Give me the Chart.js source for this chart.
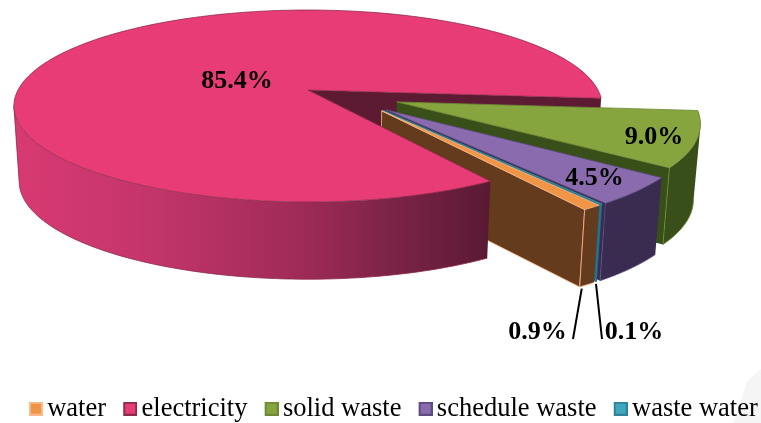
<!DOCTYPE html>
<html>
<head>
<meta charset="utf-8">
<title>Waste and utility share</title>
<style>
  html, body { margin: 0; padding: 0; background: #fff; overflow: hidden; }
  canvas { display: block; }
</style>
<script src="https://cdn.jsdelivr.net/npm/chart.js@4"></script>
</head>
<body>
<canvas id="share_chart" width="761" height="423"></canvas>
<script>
var categories = ['water', 'electricity', 'solid waste', 'schedule waste', 'waste water'];
var shareValues = [0.9, 85.4, 9.0, 4.5, 0.1];

var topColors = ['#f09546', '#e83c76', '#86a53f', '#8a6bae', '#3fa6c0'];
var edgeColors = ['#f9b98a', '#8c2b4a', '#6f8a35', '#5e4a82', '#2f8298'];
var wallColors = ['#653b1e', '#5c1a33', '#384f1a', '#3a2c50', '#1c6a80'];

// perspective of the tilted disc, unit circle -> pixels
var view = { cx: 308, cy: 90, rx: 290, ry: 93.3, persp: 0.1667, depth: 75, narrow: 0.018 };

// explosion of each slice, in unit circle coordinates
var explode = [[0.245, 0.215], [0, 0], [0.30, 0.125], [0.26, 0.205], [0.25, 0.21]];

// slices are painted back to front, the big one goes over them
var paintOrder = [2, 3, 4, 0];

var labelSpots = [[537.5, 332], [237, 81], [654, 137], [594.5, 178], [634, 332]];
var leaderEnds = { 0: [573, 339], 4: [602, 339] };
var leaderFrom = { 0: 0.85, 4: 0.5 };

function project(x, y, z) {
  var w = 1 - view.persp * y;
  var k = 1 - view.narrow * z;
  return {
    x: view.cx + view.rx * x / w * k,
    y: view.cy + view.ry * y / w + z * view.depth * (1 + 0.03 * y)
  };
}

function rimPoint(angle, shift, z) {
  return project(Math.cos(angle) + shift[0], Math.sin(angle) + shift[1], z);
}

function rimPath(ctx, start, end, shift, z, first) {
  var steps = Math.max(4, Math.ceil(Math.abs(end - start) * 40));
  for (var i = 0; i <= steps; i++) {
    var p = rimPoint(start + (end - start) * i / steps, shift, z);
    if (i === 0 && first) ctx.moveTo(p.x, p.y);
    else ctx.lineTo(p.x, p.y);
  }
}

function paintShape(ctx, fill, stroke, width) {
  ctx.closePath();
  ctx.fillStyle = fill;
  ctx.fill();
  if (stroke) {
    ctx.strokeStyle = stroke;
    ctx.lineWidth = width || 1;
    ctx.stroke();
  }
}

function drawTop(ctx, arc, i) {
  var apex = project(explode[i][0], explode[i][1], 0);
  ctx.beginPath();
  ctx.moveTo(apex.x, apex.y);
  rimPath(ctx, arc.startAngle, arc.endAngle, explode[i], 0, false);
  paintShape(ctx, topColors[i], edgeColors[i], 0.8);
}

// the cut face that looks at the viewer is the clockwise end of a slice
function drawCut(ctx, arc, i) {
  var shift = explode[i];
  var a = project(shift[0], shift[1], 0);
  var b = rimPoint(arc.endAngle, shift, 0);
  var c = rimPoint(arc.endAngle, shift, 1);
  var d = project(shift[0], shift[1], 1);
  ctx.beginPath();
  ctx.moveTo(a.x, a.y);
  ctx.lineTo(b.x, b.y);
  ctx.lineTo(c.x, c.y);
  ctx.lineTo(d.x, d.y);
  paintShape(ctx, wallColors[i], i === 0 ? edgeColors[0] : null, 0.8);
}

// the outer wall folds at its silhouette, so its strips all get the same
// winding and go into one path, that way they fill as a union without seams
function drawRim(ctx, start, end, i, fill) {
  var shift = explode[i];
  var steps = Math.max(4, Math.ceil((end - start) * 40));
  var edgeStart = start;
  var widest = -Infinity;
  ctx.beginPath();
  for (var s = 0; s < steps; s++) {
    var a0 = start + (end - start) * s / steps;
    var a1 = start + (end - start) * (s + 1) / steps;
    var p = [rimPoint(a0, shift, 0), rimPoint(a1, shift, 0), rimPoint(a1, shift, 1), rimPoint(a0, shift, 1)];
    // the lower edge only shows from the rightmost point of the rim on
    if (p[3].x > widest) {
      widest = p[3].x;
      edgeStart = a0;
    }
    var area = 0;
    for (var n = 0; n < 4; n++) {
      var q = p[(n + 1) % 4];
      area += p[n].x * q.y - q.x * p[n].y;
    }
    if (area < 0) p.reverse();
    ctx.moveTo(p[0].x, p[0].y);
    ctx.lineTo(p[1].x, p[1].y);
    ctx.lineTo(p[2].x, p[2].y);
    ctx.lineTo(p[3].x, p[3].y);
    ctx.closePath();
  }
  ctx.fillStyle = fill;
  ctx.fill();

  ctx.strokeStyle = edgeColors[i];
  ctx.lineWidth = 0.8;
  ctx.beginPath();
  rimPath(ctx, edgeStart, end, shift, 1, true);
  var t1 = rimPoint(end, shift, 0);
  ctx.lineTo(t1.x, t1.y);
  ctx.stroke();
}

var piePerspective = {
  id: 'piePerspective',
  beforeDraw: function(chart) {
    // faint mark in the lower right corner
    var ctx = chart.ctx;
    ctx.save();
    ctx.fillStyle = '#f5f5f5';
    ctx.beginPath();
    ctx.moveTo(748, 380);
    ctx.lineTo(761, 369);
    ctx.lineTo(761, 423);
    ctx.lineTo(733, 423);
    ctx.closePath();
    ctx.fill();
    ctx.restore();
  },
  // the flat arcs are replaced by the extruded ones below
  beforeDatasetsDraw: function(chart) {
    var ctx = chart.ctx;
    var arcs = chart.getDatasetMeta(0).data;
    var big = arcs[1];

    ctx.save();
    ctx.lineJoin = 'round';
    drawCut(ctx, big, 1);

    paintOrder.forEach(function(i) {
      drawCut(ctx, arcs[i], i);
      drawRim(ctx, arcs[i].startAngle, arcs[i].endAngle, i, wallColors[i]);
      drawTop(ctx, arcs[i], i);
    });

    var shade = ctx.createLinearGradient(14, 0, 488, 0);
    shade.addColorStop(0, '#d83a72');
    shade.addColorStop(0.3, '#c2356a');
    shade.addColorStop(0.6, '#a02b58');
    shade.addColorStop(0.8, '#7c2347');
    shade.addColorStop(1, '#5a1a33');
    drawRim(ctx, big.startAngle, Math.PI - Math.asin(view.persp), 1, shade);
    drawTop(ctx, big, 1);

    // leader lines of the two thin slices
    ctx.strokeStyle = '#000';
    ctx.lineWidth = 2;
    Object.keys(leaderEnds).forEach(function(key) {
      var arc = arcs[key];
      var angle = arc.startAngle + (arc.endAngle - arc.startAngle) * leaderFrom[key];
      var from = rimPoint(angle, explode[key], 1.03);
      ctx.beginPath();
      ctx.moveTo(from.x, from.y);
      ctx.lineTo(leaderEnds[key][0], leaderEnds[key][1]);
      ctx.stroke();
    });

    ctx.fillStyle = '#000';
    ctx.font = 'bold 26px "Liberation Serif"';
    ctx.textAlign = 'center';
    ctx.textBaseline = 'middle';
    shareValues.forEach(function(v, i) {
      ctx.fillText(v.toFixed(1) + '%', labelSpots[i][0], labelSpots[i][1]);
    });
    ctx.restore();
    return false;
  }
};

// the swatch sits at the right of its little canvas so it hugs the legend text
function swatch(fill, stroke) {
  var c = document.createElement('canvas');
  c.width = 18;
  c.height = 14;
  var g = c.getContext('2d');
  g.fillStyle = fill;
  g.fillRect(4, 0, 14, 14);
  g.strokeStyle = stroke;
  g.lineWidth = 2;
  g.strokeRect(5, 1, 12, 12);
  return c;
}

new Chart(document.getElementById('share_chart').getContext('2d'), {
  type: 'pie',
  data: {
    labels: categories,
    datasets: [{
      data: shareValues,
      backgroundColor: topColors,
      borderColor: edgeColors
    }]
  },
  options: {
    responsive: false,
    animation: false,
    events: [],
    rotation: 144,
    layout: { padding: { bottom: -9, right: -19 } },
    plugins: {
      tooltip: { enabled: false },
      legend: {
        position: 'bottom',
        align: 'end',
        labels: {
          color: '#000',
          font: { family: '"Liberation Serif"', size: 26.5 },
          usePointStyle: true,
          boxWidth: 0.01,
          padding: 22.2,
          generateLabels: function(chart) {
            return Chart.overrides.pie.plugins.legend.labels.generateLabels(chart).map(function(item, i) {
              item.pointStyle = swatch(topColors[i], edgeColors[i]);
              return item;
            });
          }
        }
      }
    }
  },
  plugins: [piePerspective]
});
</script>
</body>
</html>
